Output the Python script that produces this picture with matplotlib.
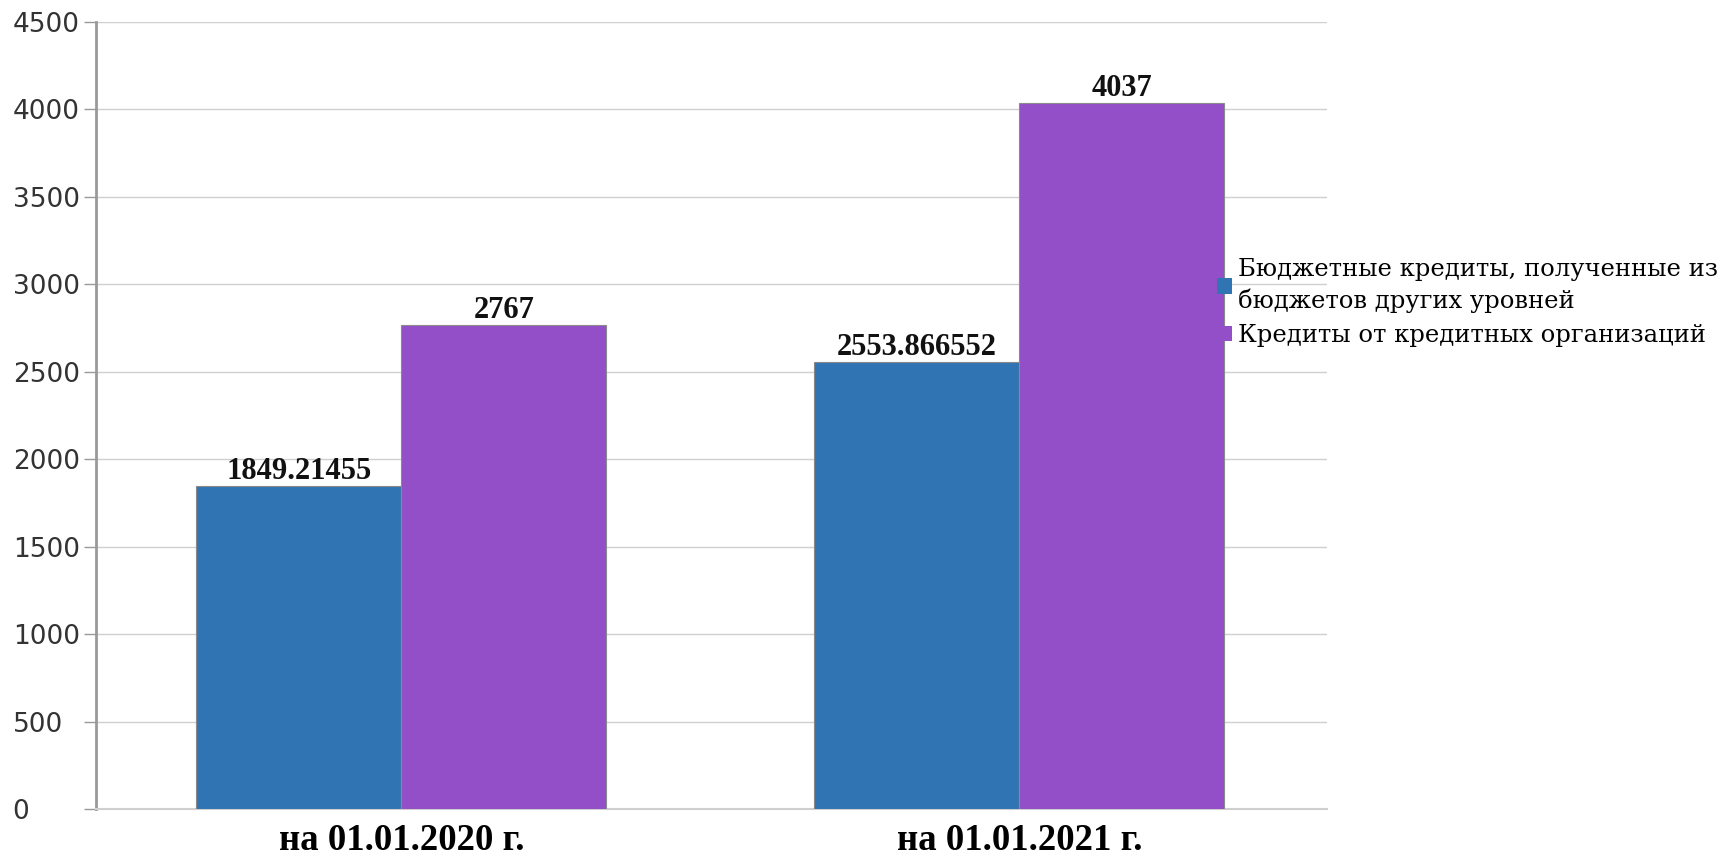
import matplotlib
matplotlib.use("Agg")
import matplotlib.pyplot as plt
import numpy as np
from matplotlib.patches import Patch

datas = ["на 01.01.2020 г.", "на 01.01.2021 г."]
bud_kreditos = [1849.21455, 2553.866552]
kred_org = [2767, 4037]
rotulos_bud = ["1849.21455", "2553.866552"]
rotulos_org = ["2767", "4037"]
legendas = ["Бюджетные кредиты, полученные из\nбюджетов других уровней",
            "Кредиты от кредитных организаций"]
cores = ["#3174b4", "#934fc8"]
marcas_y = np.arange(0, 4501, 500)

fig = plt.figure(figsize=(17.17, 8.59), dpi=100)
ax = fig.add_axes([0.0559, 0.0582, 0.7170, 0.9162])

x = np.arange(len(datas))
largura = 0.332

barras1 = ax.bar(x - largura / 2, bud_kreditos, width=largura, color=cores[0],
                 edgecolor="#8a8a8a", linewidth=0.8, zorder=3)
barras2 = ax.bar(x + largura / 2, kred_org, width=largura, color=cores[1],
                 edgecolor="#8a8a8a", linewidth=0.8, zorder=3)

ax.bar_label(barras1, labels=rotulos_bud, padding=0, fontsize=22,
             fontweight="bold", family="Liberation Serif", color="#111111")
ax.bar_label(barras2, labels=rotulos_org, padding=0, fontsize=22,
             fontweight="bold", family="Liberation Serif", color="#111111")

ax.set_xlim(-0.494, 1.498)
ax.set_ylim(0, 4500)
ax.set_yticks(marcas_y)
ax.set_yticklabels([str(v) for v in marcas_y], family="DejaVu Sans", fontsize=19, color="#333333")
# no original os rotulos do eixo y ficam alinhados a esquerda
for rotulo in ax.get_yticklabels():
    rotulo.set_horizontalalignment("left")
ax.set_xticks(x)
ax.set_xticklabels(datas, family="Liberation Serif", fontweight="bold", fontsize=26.5)
ax.tick_params(axis="x", length=0, pad=10)
ax.tick_params(axis="y", length=9, width=1, color="#999999", pad=51)

ax.grid(axis="y", color="#cfcfcf", linewidth=1, zorder=0)
ax.set_axisbelow(True)
for lado in ["top", "right"]:
    ax.spines[lado].set_visible(False)
ax.spines["left"].set_color("#999999")
ax.spines["left"].set_linewidth(2)
ax.spines["bottom"].set_color("#cfcfcf")
ax.spines["bottom"].set_linewidth(1.5)

alcas = [Patch(facecolor=cores[0]), Patch(facecolor=cores[1])]
leg = fig.legend(alcas, legendas, loc="center left", bbox_to_anchor=(0.709, 0.648),
                 frameon=False, prop={"family": "DejaVu Serif", "size": 17.5},
                 handlelength=0.6, handleheight=0.6, handletextpad=0.25,
                 borderpad=0, borderaxespad=0, labelspacing=0.45)
for t in leg.get_texts():
    t.set_linespacing(1.4)

fig.savefig("out.png", dpi=100)
